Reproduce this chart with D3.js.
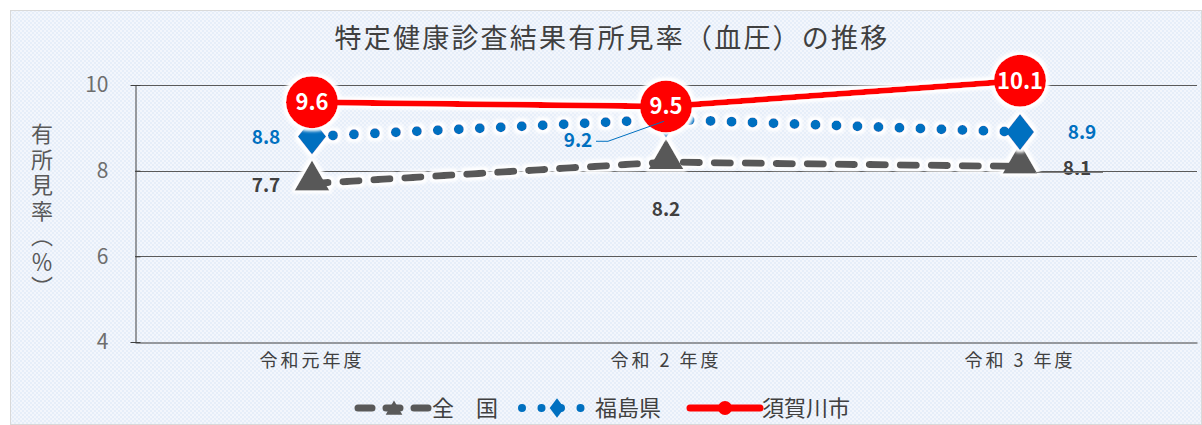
<!DOCTYPE html>
<html lang="ja">
<head>
<meta charset="UTF-8">
<title>特定健康診査結果有所見率（血圧）の推移</title>
<script src="https://d3js.org/d3.v7.min.js"></script>
<style>
  *{margin:0;padding:0;box-sizing:border-box;}
  body{background:#fff;width:1202px;height:425px;overflow:hidden;}
  text{font-family:"Noto Sans CJK JP","Noto Sans",sans-serif;}
</style>
</head>
<body>
<script>
// data
const years = ["令和元年度", "令和 2 年度", "令和 3 年度"];
const zenkoku = [7.7, 8.2, 8.1];
const fukushima = [8.8, 9.2, 8.9];
const sukagawa = [9.6, 9.5, 10.1];
const yTicks = [4, 6, 8, 10];

const W = 1202, H = 425;
const svg = d3.select('body').append('svg').attr('width', W).attr('height', H);

const defs = svg.append('defs');
const pat = defs.append('pattern').attr('id', 'bgp')
  .attr('width', 4).attr('height', 4).attr('patternUnits', 'userSpaceOnUse');
pat.append('rect').attr('width', 4).attr('height', 4).attr('fill', '#f3f6fc');
pat.append('rect').attr('width', 2).attr('height', 2).attr('fill', '#e6eef9');
pat.append('rect').attr('x', 2).attr('y', 2).attr('width', 2).attr('height', 2).attr('fill', '#e6eef9');

// white glow round the series
const glow = defs.append('filter').attr('id', 'glow')
  .attr('x', '-10%').attr('y', '-50%').attr('width', '120%').attr('height', '200%');
glow.append('feMorphology').attr('in', 'SourceAlpha').attr('operator', 'dilate').attr('radius', 2.5).attr('result', 'd');
glow.append('feGaussianBlur').attr('in', 'd').attr('stdDeviation', 1.5).attr('result', 'b');
glow.append('feFlood').attr('flood-color', '#fff');
glow.append('feComposite').attr('in2', 'b').attr('operator', 'in').attr('result', 'w');
const gm = glow.append('feMerge');
gm.append('feMergeNode').attr('in', 'w');
gm.append('feMergeNode').attr('in', 'SourceGraphic');

// frame
svg.append('rect').attr('x', 10.5).attr('y', 10.5).attr('width', W - 11).attr('height', H - 11)
  .attr('fill', 'url(#bgp)').attr('stroke', '#d9d9d9');

// title
svg.append('text').attr('x', 612).attr('y', 48).attr('text-anchor', 'middle')
  .attr('font-size', 27).attr('letter-spacing', 2.2).attr('fill', '#404040')
  .text('特定健康診査結果有所見率（血圧）の推移');

// scales
const x = d3.scaleBand().domain(years).range([135, 1197]);
const y = d3.scaleLinear().domain([4, 10]).range([342, 85]);
const cx = d => x(d) + x.bandwidth() / 2;

// grid
svg.append('g').selectAll('line').data(yTicks.filter(t => t > 4)).enter().append('line')
  .attr('x1', 135).attr('x2', 1197)
  .attr('y1', d => Math.round(y(d)) + 0.5).attr('y2', d => Math.round(y(d)) + 0.5)
  .attr('stroke', '#5a5a5a').attr('stroke-width', 1);

// axes
const yAxis = svg.append('g').attr('transform', 'translate(135.5,0)')
  .call(d3.axisLeft(y).tickValues(yTicks).tickFormat(d3.format('d')).tickSize(5).tickPadding(22));
yAxis.select('.domain').attr('stroke', '#404040');
yAxis.selectAll('line').attr('stroke', '#404040').attr('transform', 'translate(5,0)');
yAxis.selectAll('text').attr('font-size', 21).attr('fill', '#6e6e6e')
  .attr('font-family', '"Noto Sans CJK JP",sans-serif');

const xAxis = svg.append('g').attr('transform', 'translate(0,' + (Math.round(y(4)) + 0.5) + ')')
  .call(d3.axisBottom(x).tickSize(0).tickPadding(12));
xAxis.select('.domain').attr('stroke', '#404040');
xAxis.selectAll('text').attr('font-size', 18).attr('letter-spacing', 3).attr('fill', '#404040')
  .attr('font-family', '"Noto Sans CJK JP",sans-serif');

// y axis title, vertical writing
svg.append('text').attr('x', 42).attr('y', 123)
  .style('writing-mode', 'vertical-rl')
  .attr('font-size', 22).attr('letter-spacing', 3.5).attr('fill', '#595959')
  .text('有所見率（％）');

const line = d3.line().x((d, i) => cx(years[i])).y(d => y(d));

// 全国
const gZ = svg.append('g').attr('filter', 'url(#glow)');
gZ.append('path').attr('d', line(zenkoku)).attr('fill', 'none')
  .attr('stroke', '#595959').attr('stroke-width', 7)
  .attr('stroke-dasharray', '16,15').attr('stroke-linecap', 'round');
const tri = d3.symbol().type(d3.symbolTriangle).size(520);
gZ.selectAll('.tri').data(zenkoku).enter().append('path')
  .attr('d', tri).attr('fill', '#595959')
  .attr('transform', (d, i) => 'translate(' + cx(years[i]) + ',' + (y(d) - 3) + ')');

// 福島県
const gF = svg.append('g').attr('filter', 'url(#glow)');
gF.append('path').attr('d', line(fukushima)).attr('fill', 'none')
  .attr('stroke', '#0070c0').attr('stroke-width', 10)
  .attr('stroke-dasharray', '0,21').attr('stroke-linecap', 'round');
const dia = d3.symbol().type(d3.symbolDiamond).size(380);
gF.selectAll('.dia').data(fukushima).enter().append('path')
  .attr('d', dia).attr('fill', '#0070c0')
  .attr('transform', (d, i) => 'translate(' + cx(years[i]) + ',' + y(d) + ') scale(1.35,1)');

// 須賀川市
const gS = svg.append('g').attr('filter', 'url(#glow)');
gS.append('path').attr('d', line(sukagawa)).attr('fill', 'none')
  .attr('stroke', '#ff0000').attr('stroke-width', 6);
gS.selectAll('circle').data(sukagawa).enter().append('circle')
  .attr('cx', (d, i) => cx(years[i])).attr('cy', d => y(d)).attr('r', 26)
  .attr('fill', '#ff0000');

// labels
svg.selectAll('.ls').data(sukagawa).enter().append('text')
  .attr('x', (d, i) => cx(years[i])).attr('y', d => y(d) + 8)
  .attr('text-anchor', 'middle').attr('font-size', 22).attr('font-weight', 'bold')
  .attr('fill', '#fff').text(d => d.toFixed(1));

const fPos = [[-46, 8], [-88, 28], [62, 7]];
svg.selectAll('.lf').data(fukushima).enter().append('text')
  .attr('x', (d, i) => cx(years[i]) + fPos[i][0]).attr('y', (d, i) => y(d) + fPos[i][1])
  .attr('text-anchor', 'middle').attr('font-size', 19).attr('font-weight', 'bold')
  .attr('fill', '#0070c0').text(d => d.toFixed(1));
// leader line for 9.2
svg.append('path')
  .attr('d', 'M' + (cx(years[1]) - 70) + ',' + (y(fukushima[1]) + 22) + 'H' + (cx(years[1]) - 58) + 'L' + (cx(years[1]) - 2) + ',' + (y(fukushima[1]) + 2))
  .attr('fill', 'none').attr('stroke', '#0070c0').attr('stroke-width', 1);

const zPos = [[-46, 8], [0, 54], [57, 9]];
svg.selectAll('.lz').data(zenkoku).enter().append('text')
  .attr('x', (d, i) => cx(years[i]) + zPos[i][0]).attr('y', (d, i) => y(d) + zPos[i][1])
  .attr('text-anchor', 'middle').attr('font-size', 19).attr('font-weight', 'bold')
  .attr('fill', '#404040').text(d => d.toFixed(1));
// leader line for 8.1
svg.append('line').attr('x1', cx(years[2]) + 15).attr('x2', cx(years[2]) + 83)
  .attr('y1', Math.round(y(zenkoku[2])) + 6.5).attr('y2', Math.round(y(zenkoku[2])) + 6.5)
  .attr('stroke', '#808080').attr('stroke-width', 1);

// legend
const lg = svg.append('g').attr('transform', 'translate(0,408)');
const items = [
  {name: '全　国', x1: 358, x2: 430, tx: 432},
  {name: '福島県', x1: 520, x2: 582, tx: 595},
  {name: '須賀川市', x1: 690, x2: 760, tx: 762}
];
lg.append('line').attr('x1', items[0].x1).attr('x2', items[0].x2)
  .attr('stroke', '#595959').attr('stroke-width', 7).attr('stroke-linecap', 'round')
  .attr('stroke-dasharray', '14,14');
lg.append('path').attr('d', d3.symbol().type(d3.symbolTriangle).size(120))
  .attr('fill', '#595959').attr('transform', 'translate(394,2)');
lg.append('line').attr('x1', items[1].x1 + 2).attr('x2', items[1].x2)
  .attr('stroke', '#0070c0').attr('stroke-width', 8).attr('stroke-linecap', 'round')
  .attr('stroke-dasharray', '0,19.5');
lg.append('path').attr('d', d3.symbol().type(d3.symbolDiamond).size(110))
  .attr('fill', '#0070c0').attr('transform', 'translate(557,0) scale(1.3,1)');
lg.append('line').attr('x1', items[2].x1).attr('x2', items[2].x2)
  .attr('stroke', '#ff0000').attr('stroke-width', 7).attr('stroke-linecap', 'round');
lg.append('circle').attr('cx', 725).attr('r', 7).attr('fill', '#ff0000');
lg.selectAll('text').data(items).enter().append('text')
  .attr('x', d => d.tx).attr('y', 8).attr('font-size', 22).attr('fill', '#404040')
  .text(d => d.name);
</script>
</body>
</html>
